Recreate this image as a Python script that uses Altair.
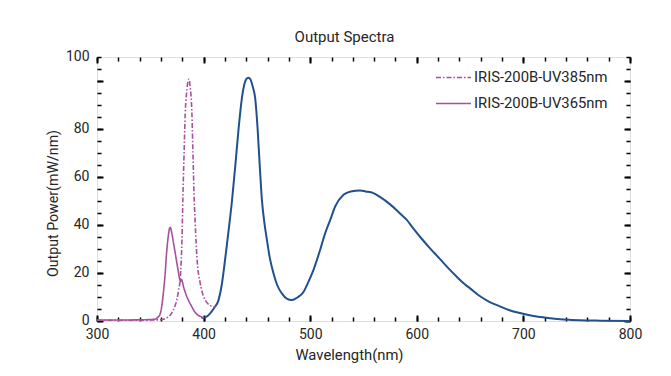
import altair as alt
import pandas as pd

# ---------------- data ----------------
blue_nm = [398, 402, 406, 410, 414, 417, 420, 423, 426.6, 430, 432.8, 435.9, 438, 440, 442, 444, 446,
           448.4, 450.6, 452.5, 454.7, 457, 459.4, 462, 465.6, 469, 473.4, 478, 482.8, 488, 493.7, 498,
           503, 509.3, 514, 518.8, 523.4, 531.2, 538, 546.8, 552, 559.3, 565, 575, 584, 590.6, 596, 603,
           612, 621.8, 630, 637.5, 645, 650, 659.4, 668, 678, 687, 696.9, 706, 715.6, 725, 734.4, 745,
           753, 772, 800]
blue_val = [1.3, 1.6, 3.1, 5.5, 8.7, 15, 25, 36, 50, 66, 80, 92.8, 98.2, 100.8, 101.4, 100.6, 97.8,
            92.8, 80.6, 66, 50.5, 41, 33.8, 26.5, 19.8, 15, 11.5, 9.3, 8.7, 9.8, 12.1, 16,
            21.2, 29.6, 36.5, 42.1, 47.7, 52.6, 54, 54.4, 54, 53.3, 51.8, 48.6, 44.9, 42.1, 39, 35.1,
            30.5, 25.8, 21.8, 18.4, 15.3, 13.6, 10.3, 8, 6.1, 4.5, 3.3, 2.4, 1.7, 1.1, 0.7, 0.45,
            0.3, 0.15, 0.05]

uv365_nm = [300, 320, 340, 350, 354.7, 357, 359.3, 361, 362.5, 364, 365, 366.8, 368, 368.7, 370,
            371.8, 373.5, 375, 376.5, 377.4, 378.5, 379.3, 380.3, 381.2, 382.8, 384.4, 386.5, 389,
            391, 393.7, 396.5, 400]
uv365_val = [0.4, 0.4, 0.5, 0.6, 0.8, 1.5, 3, 7, 12.8, 20, 26.8, 35.1, 38.5, 39, 37,
             32.4, 28, 24, 20, 17.7, 16.5, 17.3, 16, 14.2, 12, 10, 8, 5.9,
             4.3, 2.8, 2, 1.4]

uv385_nm = [300, 330, 350, 358, 362.4, 364, 366.5, 368.7, 371, 373.4, 375, 376.5, 378.1, 379, 379.7,
            380.6, 381.7, 382.8, 384, 385.5, 386.3, 387.3, 389, 390, 391.2, 392.1, 393.7, 396.8,
            398.4, 401.5, 404, 406.2, 411]
uv385_val = [0.3, 0.3, 0.4, 0.5, 0.7, 1, 1.6, 2.4, 4, 6.6, 9, 12.8, 17.7, 25, 33.8,
             52, 70, 86.8, 95, 100, 100.8, 98, 86.8, 70, 50.5, 40.8, 26.8, 15.8,
             12.5, 8.7, 7.2, 6.4, 5.9]

S385 = "IRIS-200B-UV385nm"
S365 = "IRIS-200B-UV365nm"

x_domain = [300, 800]
y_domain = [0, 110]
x_major = [300, 400, 500, 600, 700, 800]
x_minor = list(range(300, 801, 20))
y_major = [0, 20, 40, 60, 80, 100]
y_minor = list(range(0, 111, 5))
y_label_vals = [0, 20, 40, 60, 80, 110]

# ---------------- styling ----------------
FONT = "Roboto"
TXT = "#262626"
BLUE = "#21508f"
MAG = "#a8509f"

blue_df = pd.DataFrame({"nm": blue_nm, "val": blue_val})
uv_df = pd.concat([
    pd.DataFrame({"nm": uv385_nm, "val": uv385_val, "series": S385}),
    pd.DataFrame({"nm": uv365_nm, "val": uv365_val, "series": S365}),
], ignore_index=True)

xs = alt.Scale(domain=x_domain, nice=False, zero=False)
ys = alt.Scale(domain=y_domain, nice=False, zero=False)


def tick_axis(orient, values, size, width):
    return alt.Axis(orient=orient, values=values, labels=False, domain=False, grid=False,
                    ticks=True, tickSize=size, tickWidth=width, tickColor="black",
                    offset=-size, title=None)


# layer 1: blue line, with labelled axes
blue = alt.Chart(blue_df).mark_line(color=BLUE, strokeWidth=2, interpolate="monotone").encode(
    x=alt.X("nm:Q", scale=xs, axis=alt.Axis(
        orient="bottom", values=x_major, ticks=False, domain=False, grid=False,
        labelFont=FONT, labelFontSize=14, labelColor=TXT, labelPadding=6, labelFlush=False,
        title="Wavelength(nm)", titleFont=FONT, titleFontSize=14.8, titleFontWeight="normal",
        titleColor=TXT, titleX=252, titleY=34, titleBaseline="middle", titleAlign="center")),
    y=alt.Y("val:Q", scale=ys, axis=alt.Axis(
        orient="left", values=y_label_vals, ticks=False, domain=False, grid=False,
        labelExpr="datum.value == 110 ? '100' : datum.label", labelFlush=False,
        labelFont=FONT, labelFontSize=14, labelColor=TXT, labelPadding=8, labelOffset=-1,
        title="Output Power(mW/nm)", titleFont=FONT, titleFontSize=14.2, titleFontWeight="normal",
        titleColor=TXT, titleX=-44, titleY=146, titleBaseline="middle", titleAlign="center",
        titleAngle=270)),
)

# layer 2: UV lines, with bottom/left major ticks
uv = alt.Chart(uv_df).mark_line(color=MAG, strokeWidth=1.6, interpolate="monotone").encode(
    x=alt.X("nm:Q", scale=xs, axis=tick_axis("bottom", x_major, 6, 2)),
    y=alt.Y("val:Q", scale=ys, axis=tick_axis("left", y_major, 6, 2)),
    strokeDash=alt.StrokeDash("series:N", scale=alt.Scale(domain=[S385, S365],
                                                          range=[[5, 2, 1.5, 2], [1, 0]]),
                              legend=alt.Legend(title=None, orient="none", legendX=338, legendY=2,
                                                symbolType="stroke", symbolSize=1225,
                                                symbolStrokeColor=MAG, symbolStrokeWidth=1.6,
                                                labelFont=FONT, labelFontSize=14.8, labelColor=TXT,
                                                labelOffset=2, rowPadding=-17.4, padding=0)),
    detail="series:N",
)

ghost = alt.Chart(blue_df).mark_line(strokeOpacity=0)

l3 = ghost.encode(x=alt.X("nm:Q", scale=xs, axis=tick_axis("bottom", x_minor, 4, 1.5)),
                  y=alt.Y("val:Q", scale=ys, axis=tick_axis("left", y_minor, 4, 1.5)))
l4 = ghost.encode(x=alt.X("nm:Q", scale=xs, axis=tick_axis("top", x_major, 6, 2)),
                  y=alt.Y("val:Q", scale=ys, axis=tick_axis("right", y_major, 6, 2)))
l5 = ghost.encode(x=alt.X("nm:Q", scale=xs, axis=tick_axis("top", x_minor, 4, 1.5)),
                  y=alt.Y("val:Q", scale=ys, axis=tick_axis("right", y_minor, 4, 1.5)))

chart = alt.layer(blue, uv, l3, l4, l5).resolve_axis(
    x="independent", y="independent"
).resolve_scale(x="shared", y="shared").properties(
    width=533, height=264,
    title=alt.TitleParams("Output Spectra", font=FONT, fontSize=15, fontWeight="normal",
                          color=TXT, anchor="middle", dx=-19, offset=4),
    autosize=alt.AutoSizeParams(type="none"),
    padding={"left": 97, "top": 57, "right": 41, "bottom": 55},
).configure_view(stroke="black", strokeWidth=2.2).configure(background="white")

chart.save("out.html", embed_options={"renderer": "svg", "actions": False})
